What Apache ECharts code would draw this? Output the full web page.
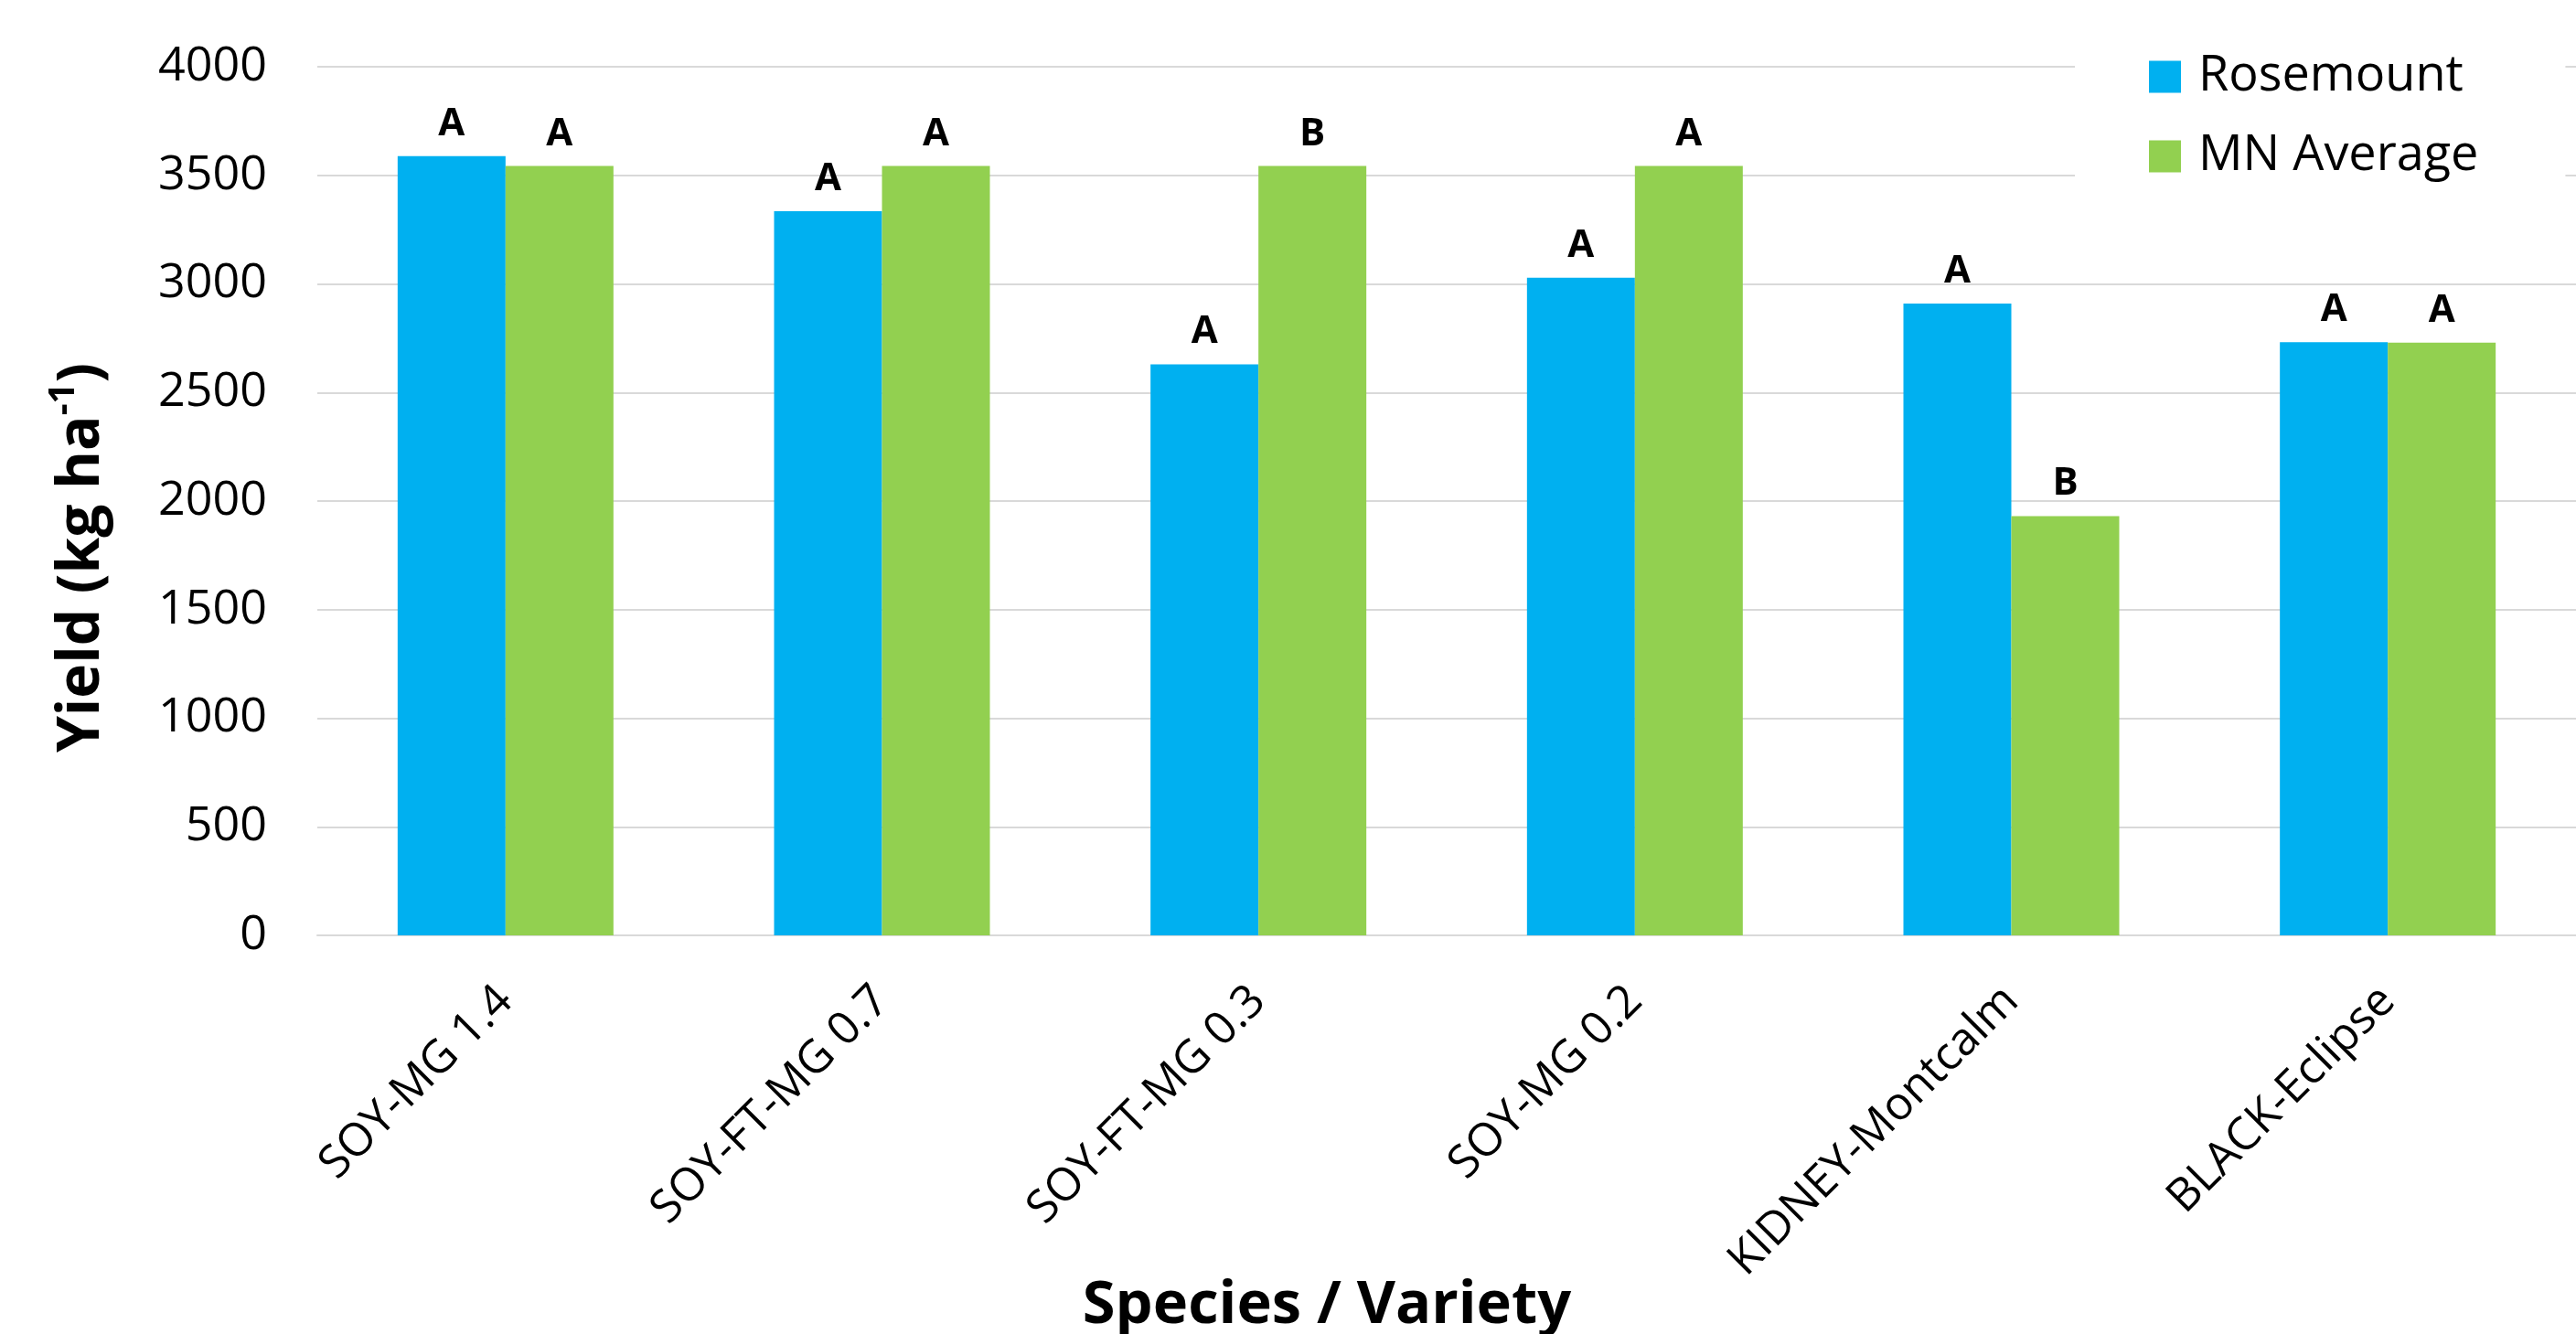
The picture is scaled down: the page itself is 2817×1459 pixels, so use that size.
<!DOCTYPE html>
<html>
<head>
<meta charset="utf-8">
<script src="https://cdn.jsdelivr.net/npm/echarts@6/dist/echarts.min.js"></script>
<style>
html,body{margin:0;padding:0;background:#fff;}
#chart{width:2817px;height:1459px;}
</style>
</head>
<body>
<div id="chart"></div>
<script>
const categories = ['SOY-MG 1.4', 'SOY-FT-MG 0.7', 'SOY-FT-MG 0.3', 'SOY-MG 0.2', 'KIDNEY-Montcalm', 'BLACK-Eclipse'];
const seriesNames = ['Rosemount', 'MN Average'];
const rosemount = [3588, 3335, 2630, 3028, 2910, 2732];
const mnAverage = [3543, 3543, 3543, 3543, 1931, 2730];
const rosemountLetters = ['A', 'A', 'A', 'A', 'A', 'A'];
const mnAverageLetters = ['A', 'A', 'B', 'A', 'B', 'A'];
const yTicks = [0, 500, 1000, 1500, 2000, 2500, 3000, 3500, 4000];

const FONT = '"Open Sans", "Liberation Sans", sans-serif';
const chart = echarts.init(document.getElementById('chart'));

function labelCfg(letters) {
  return {
    show: true,
    position: 'top',
    distance: 14,
    formatter: p => letters[p.dataIndex],
    fontFamily: FONT,
    fontWeight: 'bold',
    fontSize: 42,
    color: '#000'
  };
}

chart.setOption({
  animation: false,
  backgroundColor: '#fff',
  grid: { left: 347, right: 0, top: 73, bottom: 1459 - 1023, containLabel: false, outerBoundsMode: 'none' },
  legend: {
    orient: 'vertical',
    left: 2269,
    top: 47,
    padding: [10, 95, 10, 81],
    backgroundColor: '#fff',
    itemWidth: 35,
    itemHeight: 35,
    itemGap: 33,
    icon: 'rect',
    data: seriesNames,
    textStyle: { fontFamily: FONT, fontSize: 54, color: '#000', padding: [0, 0, 0, 14] },
    z: 10
  },
  xAxis: {
    type: 'category',
    data: categories,
    axisLine: { show: true, lineStyle: { color: '#d9d9d9', width: 2 } },
    axisTick: { show: false },
    axisLabel: {
      rotate: 45,
      margin: 64,
      interval: 0,
      fontFamily: FONT,
      fontSize: 50,
      color: '#000'
    },
    name: 'Species / Variety',
    nameLocation: 'middle',
    nameGap: 373,
    nameMoveOverlap: false,
    nameTextStyle: {
      fontFamily: FONT,
      fontWeight: 'bold',
      fontSize: 65,
      color: '#000',
      padding: [0, 262, 0, 0]
    }
  },
  yAxis: {
    type: 'value',
    min: 0,
    max: 4000,
    interval: 500,
    axisLine: { show: false },
    axisTick: { show: false },
    splitLine: { lineStyle: { color: '#d9d9d9', width: 2 } },
    axisLabel: {
      margin: 55,
      fontFamily: FONT,
      fontSize: 52,
      color: '#000',
      formatter: v => (yTicks.indexOf(v) >= 0 ? String(v) : '')
    },
    name: '{b|Yield (kg ha}{s|-1}{b|)}',
    nameLocation: 'middle',
    nameRotate: 90,
    nameGap: 217,
    nameMoveOverlap: false,
    nameTextStyle: {
      padding: [0, 124, 0, 0],
      rich: {
        b: { fontFamily: FONT, fontWeight: 'bold', fontSize: 64, color: '#000', lineHeight: 80 },
        s: { fontFamily: FONT, fontWeight: 'bold', fontSize: 40, color: '#000', lineHeight: 80, verticalAlign: 'top', padding: [0, 0, 34, 0] }
      }
    }
  },
  series: [
    {
      name: seriesNames[0],
      type: 'bar',
      data: rosemount,
      barWidth: 118,
      barGap: '0%',
      itemStyle: { color: '#00B0F0' },
      label: labelCfg(rosemountLetters)
    },
    {
      name: seriesNames[1],
      type: 'bar',
      data: mnAverage,
      barWidth: 118,
      barGap: '0%',
      itemStyle: { color: '#92D050' },
      label: labelCfg(mnAverageLetters)
    }
  ]
});
</script>
</body>
</html>
